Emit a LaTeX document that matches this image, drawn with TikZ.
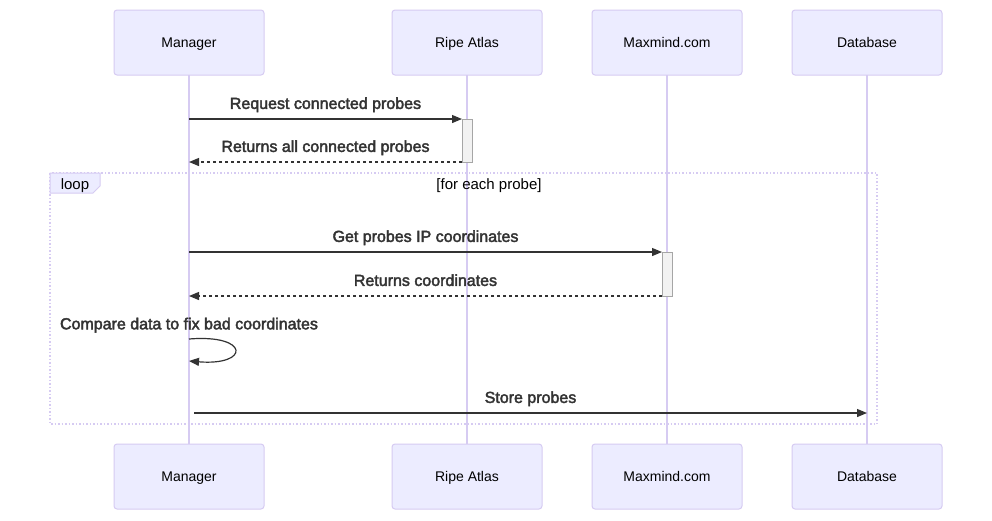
\documentclass[tikz,border=0pt]{standalone}
\usepackage{fontspec}
\setmainfont{Liberation Sans}
\newfontfamily\msgfont[FakeBold=2.5]{Liberation Sans}
\usetikzlibrary{positioning, arrows.meta}
\definecolor{actorfill}{HTML}{ECECFF}
\definecolor{actorline}{HTML}{D6CBF2}
\definecolor{msgcolor}{HTML}{333333}
\tikzstyle{actor} = [rectangle, rounded corners=3pt, minimum width=150pt, minimum height=65pt, outer sep=0pt, text centered, text height=11pt, text depth=1pt, draw=actorline, fill=actorfill, line width=1pt, font=\fontsize{14}{16}\selectfont]
\tikzstyle{lifeline} = [draw=actorline, line width=1.3pt]
\tikzstyle{activation} = [rectangle, minimum width=10pt, inner sep=0pt, outer sep=0pt, draw=black!35, fill=black!5, line width=1pt]
\tikzstyle{msg} = [draw=msgcolor, line width=1.2pt, -{Triangle[length=10pt,width=8pt]}]
\tikzstyle{reply} = [msg, dash pattern=on 3pt off 3pt]
\tikzstyle{msgtext} = [text=msgcolor, inner sep=0pt, above=6pt, text height=12pt, text depth=3.5pt, font=\msgfont\fontsize{16}{18}\selectfont]
\tikzstyle{looptext} = [anchor=base, inner sep=0pt, font=\fontsize{15}{17}\selectfont]

\begin{document}
\begin{tikzpicture}[x=1pt, y=-1pt, node distance=128pt]
        \fill[white] (0,0) rectangle (992,520);
        \useasboundingbox (0,0) rectangle (992,520);

        % actors, top row
        \node[actor] at (189,42.5)                     (manager)  {Manager};
        \node[actor, right=of manager]                 (atlas)    {Ripe Atlas};
        \node[actor, right=50pt of atlas]              (maxmind)  {Maxmind.com};
        \node[actor, right=50pt of maxmind]            (database) {Database};
        % actors, bottom row
        \node[actor, below=369pt of manager]           (manager b)  {Manager};
        \node[actor, below=369pt of atlas]             (atlas b)    {Ripe Atlas};
        \node[actor, below=369pt of maxmind]           (maxmind b)  {Maxmind.com};
        \node[actor, below=369pt of database]          (database b) {Database};

        \draw[lifeline] (manager)  -- (manager b);
        \draw[lifeline] (atlas)    -- (atlas b);
        \draw[lifeline] (maxmind)  -- (maxmind b);
        \draw[lifeline] (database) -- (database b);

        % loop frame
        \draw[draw=actorline, line width=1.3pt, dash pattern=on 1.5pt off 2pt] (50,173) rectangle (877,424);
        \draw[draw=actorline, fill=actorfill, line width=1pt] (50,173) -- (100,173) -- (100,186) -- (93,193) -- (50,193) -- cycle;
        \node[looptext] at (75,189.5)   (loop)  {loop};
        \node[looptext] at (489,189.5)  (cond)  {[for each probe]};

        % activations
        \node[activation, minimum height=43pt] at (467,140.5) (act atlas)   {};
        \node[activation, minimum height=44pt] at (667,274)   (act maxmind) {};

        % message end points
        \coordinate (m1) at (189,119);
        \coordinate (m2) at (189,162);
        \coordinate (m3) at (189,252);
        \coordinate (m4) at (189,296);
        \coordinate (m5) at (189,339);
        \coordinate (m6) at (189,361);
        \coordinate (m7) at (194,413);
        \coordinate (d7) at (867,413);

        \draw[msg]   (m1) -- node[msgtext] {Request connected probes} (act atlas.north west);
        \draw[reply] (act atlas.south west) -- node[msgtext] {Returns all connected probes} (m2);
        \draw[msg]   (m3) -- node[msgtext] {Get probes IP coordinates} (act maxmind.north west);
        \draw[reply] (act maxmind.south west) -- node[msgtext] {Returns coordinates} (m4);
        \node[msgtext] at (m5) (self text) {Compare data to fix bad coordinates};
        \draw[msg]   (m5) .. controls (250,334) and (250,366) .. (m6);
        \draw[msg]   (m7) -- node[msgtext] {Store probes} (d7);
    \end{tikzpicture}
\end{document}
